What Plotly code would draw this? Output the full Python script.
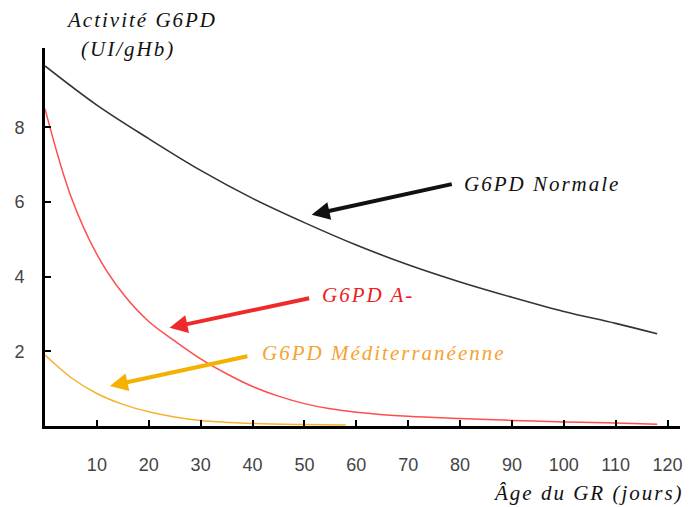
import plotly.graph_objects as go

# Normal G6PD
days_normal = [0, 10, 20, 30, 40, 50, 60, 70, 80, 90, 100, 110, 118]
act_normal = [9.65, 8.6, 7.7, 6.85, 6.1, 5.45, 4.85, 4.32, 3.86, 3.45, 3.07, 2.75, 2.47]

# G6PD A-
days_a = [0, 5, 10, 15, 20, 25, 30, 35, 40, 45, 50, 55, 60, 70, 80, 90, 100, 110, 118]
act_a = [8.5, 6.15, 4.6, 3.55, 2.8, 2.28, 1.8, 1.4, 1.06, 0.8, 0.6, 0.46, 0.37, 0.26, 0.2, 0.15, 0.11, 0.08, 0.05]

# G6PD Méditerranéenne
days_med = [0, 5, 10, 15, 20, 25, 30, 40, 50, 58]
act_med = [1.9, 1.3, 0.87, 0.58, 0.38, 0.24, 0.15, 0.07, 0.04, 0.03]

x_ticks = [10, 20, 30, 40, 50, 60, 70, 80, 90, 100, 110, 120]
y_ticks = [2, 4, 6, 8]

serif = "Liberation Serif"
sans = "Liberation Sans"

fig = go.Figure()
fig.add_trace(go.Scatter(x=days_normal, y=act_normal, mode="lines",
                         line=dict(color="#333333", width=1.6, shape="spline")))
fig.add_trace(go.Scatter(x=days_a, y=act_a, mode="lines",
                         line=dict(color="#ff4d4d", width=1.5, shape="spline")))
fig.add_trace(go.Scatter(x=days_med, y=act_med, mode="lines",
                         line=dict(color="#f7b12a", width=1.5, shape="spline")))

def ls(t, sp=2):
    return f'<span style="letter-spacing:{sp}px">{t}</span>'

annots = []
# arrows
for (tx, ty, hx, hy, col) in [
    (78.7, 6.49, 51.4, 5.66, "#111111"),
    (51.2, 3.43, 24.0, 2.63, "#ee2a2a"),
    (39.3, 1.88, 12.5, 1.07, "#f5b000"),
]:
    annots.append(dict(x=hx, y=hy, ax=tx, ay=ty, xref="x", yref="y", axref="x", ayref="y",
                       text="", showarrow=True, arrowhead=2, arrowsize=0.9, arrowwidth=4,
                       arrowcolor=col, standoff=0, startstandoff=0))

annots.append(dict(x=80.4, y=6.49, xref="x", yref="y", text=ls("G6PD Normale"), showarrow=False,
                   xanchor="left", yanchor="middle",
                   font=dict(family=serif, size=21, style="italic", color="#111111")))
annots.append(dict(x=53.0, y=3.5, xref="x", yref="y", text=ls("G6PD A-"), showarrow=False,
                   xanchor="left", yanchor="middle",
                   font=dict(family=serif, size=21, style="italic", color="#ee1c24")))
annots.append(dict(x=41.5, y=1.95, xref="x", yref="y", text=ls("G6PD Méditerranéenne"), showarrow=False,
                   xanchor="left", yanchor="middle",
                   font=dict(family=serif, size=21, style="italic", color="#f7a232")))
annots.append(dict(x=64, y=20, xref="paper", yref="paper", text=ls("Activité G6PD"), showarrow=False,
                   xanchor="left", yanchor="middle",
                   font=dict(family=serif, size=21, style="italic", color="#111111")))
annots.append(dict(x=79, y=49, xref="paper", yref="paper", text=ls("(UI/gHb)"), showarrow=False,
                   xanchor="left", yanchor="middle",
                   font=dict(family=serif, size=21, style="italic", color="#111111")))
annots.append(dict(x=689, y=493, xref="paper", yref="paper", text=ls("Âge du GR (jours)"), showarrow=False,
                   xanchor="right", yanchor="middle",
                   font=dict(family=serif, size=21, style="italic", color="#111111")))

# convert pixel paper annotations
W, H = 690, 507
ml, mr, mt, mb = 45, 7, 48, 81
for a in annots:
    if a["xref"] == "paper":
        a["x"] = (a["x"] - ml) / (W - ml - mr)
        a["y"] = 1 - (a["y"] - mt) / (H - mt - mb)

fig.update_layout(
    width=W, height=H,
    margin=dict(l=ml, r=mr, t=mt, b=mb),
    paper_bgcolor="white", plot_bgcolor="white",
    showlegend=False,
    annotations=annots,
)
fig.update_xaxes(range=[0, 122.4], tickvals=x_ticks, ticks="inside", ticklen=6, tickwidth=2,
                 tickcolor="black", showline=True, linecolor="black", linewidth=3,
                 showgrid=False, zeroline=False, ticklabelstandoff=20,
                 tickfont=dict(family=sans, size=18, color="#444444"))
fig.update_yaxes(range=[0, 10.13], tickvals=y_ticks, ticks="inside", ticklen=6, tickwidth=2,
                 tickcolor="black", showline=True, linecolor="black", linewidth=3,
                 showgrid=False, zeroline=False, ticklabelstandoff=14,
                 tickfont=dict(family=sans, size=18, color="#444444"))

fig.write_html("out.html")
